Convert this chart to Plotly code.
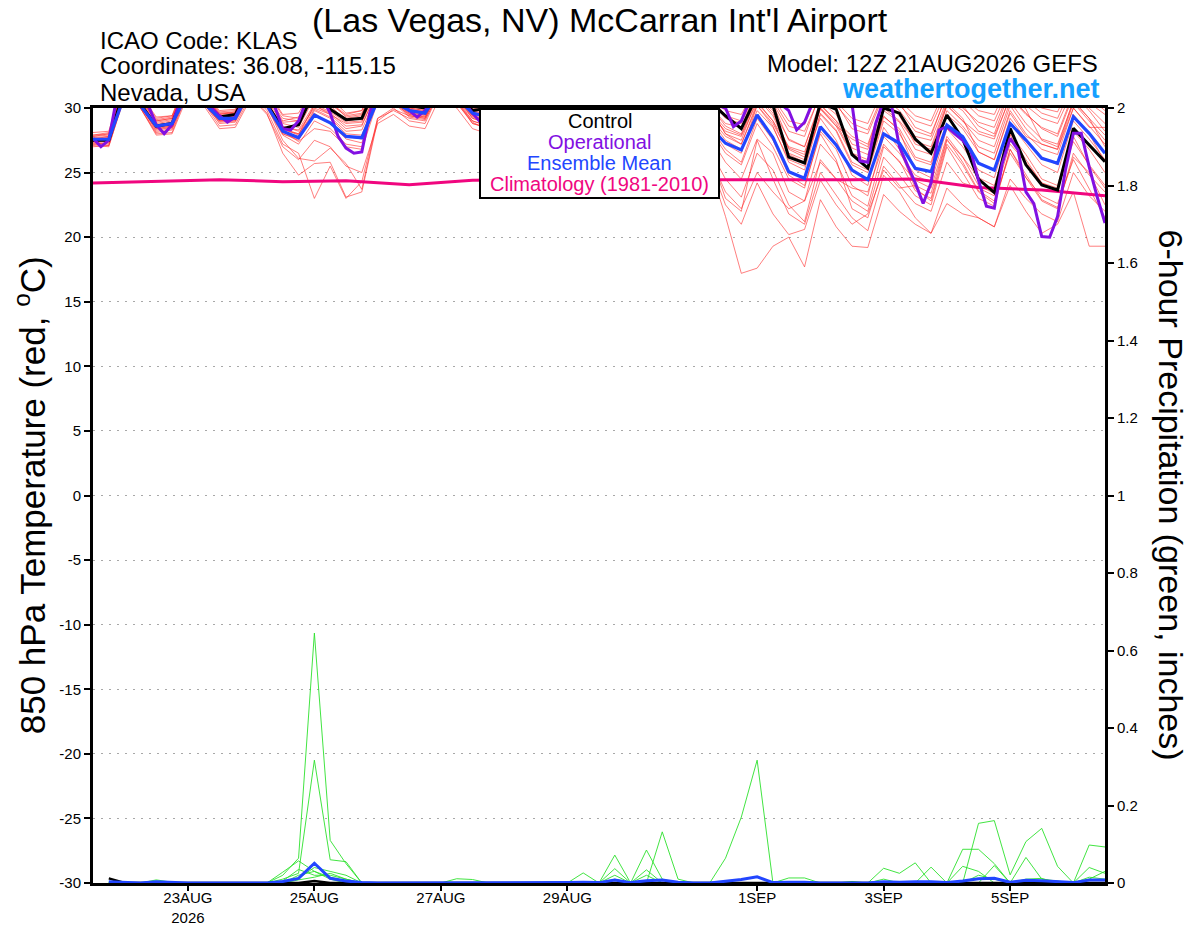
"""
GEFS meteogram for KLAS: 850 hPa temperature (left axis) + 6-hour precipitation (right axis)
"""
import pandas as pd
import plotly.graph_objects as go

run_start = "2026-08-21 12:00"
run_end = "2026-09-06 12:00"

# ---- 850 hPa temperature, 6-hourly, 65 steps (grouped by day: 12Z, 18Z, 00Z, 06Z) ----
control_t850 = [27.5, 27.5, 31.5, 30.3, 28.6, 28.8, 31.8, 30.6, 29.3, 29.5, 32.0, 30.3,
                28.4, 28.7, 31.3, 29.9, 29.1, 29.2, 32.0, 31.0, 30.2, 30.0, 32.5, 31.2,
                29.8, 30.0, 32.3, 31.0, 29.5, 29.6, 32.0, 30.8, 29.2, 29.3, 31.8, 30.6,
                29.0, 29.2, 31.5, 30.5, 29.4, 28.4, 31.0, 30.2, 26.2, 25.75, 30.4, 29.9,
                26.4, 25.35, 30.0, 29.6, 27.6, 26.5, 29.46, 27.6, 24.5, 23.45, 28.43, 25.6,
                24.04, 23.65, 28.43, 27.14, 25.85]

mean_t850 = [27.58, 27.58, 31.0, 30.2, 28.6, 28.8, 31.2, 30.4, 29.2, 29.2, 31.5, 30.2,
             28.2, 27.7, 29.45, 28.85, 27.8, 27.7, 30.6, 30.5, 29.8, 29.6, 31.5, 30.8,
             29.6, 29.3, 31.3, 30.5, 29.2, 29.0, 31.0, 30.2, 28.8, 28.6, 30.6, 29.8,
             28.4, 28.2, 30.2, 28.55, 27.27, 26.75, 29.46, 27.72, 25.07, 24.56, 28.55, 27.14,
             25.2, 24.45, 28.0, 27.27, 25.33, 25.07, 28.68, 27.78, 25.72, 25.2, 28.8, 27.52,
             26.1, 25.72, 29.33, 28.04, 26.5]

# operational run is 3-hourly (129 steps, one row per day)
oper_t850 = [27.65, 27.0, 27.5, 30.8, 32.0, 32.2, 31.0, 30.2,
             28.7, 28.0, 28.7, 30.5, 32.0, 31.8, 30.8, 30.0,
             29.4, 28.9, 29.3, 30.5, 32.0, 32.0, 31.0, 30.1,
             28.4, 28.3, 29.0, 30.6, 31.5, 30.8, 29.6, 27.8,
             26.9, 26.5, 26.6, 29.6, 31.5, 32.0, 31.5, 30.6,
             29.8, 29.3, 29.8, 30.8, 32.0, 32.0, 31.0, 30.4,
             29.6, 28.9, 29.2, 30.5, 31.8, 32.0, 31.0, 30.3,
             29.4, 29.0, 29.3, 30.4, 31.6, 31.8, 30.9, 30.2,
             29.2, 28.8, 29.1, 30.3, 31.5, 31.6, 30.8, 30.1,
             29.1, 28.6, 28.9, 30.2, 31.2, 31.0, 30.5, 30.2,
             30.0, 28.55, 29.0, 30.5, 31.5, 31.6, 31.0, 30.3,
             29.8, 28.3, 28.9, 30.4, 31.5, 31.5, 30.8, 31.0,
             30.3, 25.9, 25.8, 28.8, 30.6, 30.2, 27.0, 25.6,
             24.2, 22.6, 24.2, 28.3, 28.55, 28.0, 27.5, 26.75,
             24.4, 22.4, 22.25, 25.7, 27.65, 26.75, 23.5, 22.6,
             20.05, 20.0, 21.6, 25.2, 28.05, 28.05, 25.45, 23.15,
             21.1]

# daily climatology (1981-2010), 12Z each day
clim_t850 = [24.2, 24.35, 24.45, 24.3, 24.37, 24.05, 24.4, 24.45, 24.45,
             24.45, 24.4, 24.42, 24.45, 24.5, 23.85, 23.65, 23.2]

# ensemble members
mem01 = [27.8, 27.9, 32.0, 30.8, 29.0, 29.2, 32.2, 31.0, 29.5, 29.7, 32.5, 31.0,
         29.0, 29.3, 31.5, 30.4, 29.5, 29.8, 32.5, 31.5, 30.3, 30.1, 32.8, 31.6,
         30.2, 30.0, 32.6, 31.4, 29.8, 29.6, 32.3, 31.0, 29.5, 29.3, 32.0, 30.8,
         29.3, 29.2, 31.8, 30.8, 29.8, 29.5, 31.8, 30.6, 28.6, 28.2, 31.0, 30.2,
         28.8, 28.3, 31.2, 30.4, 28.5, 28.0, 31.0, 30.0, 28.9, 28.5, 31.5, 30.2,
         29.2, 28.8, 31.5, 30.4, 29.5]
mem02 = [27.6, 27.7, 31.6, 30.5, 28.8, 29.0, 31.8, 30.8, 29.4, 29.5, 32.0, 30.6,
         28.8, 28.5, 30.8, 30.0, 29.2, 29.4, 32.0, 31.2, 30.0, 29.8, 32.2, 31.2,
         29.8, 29.5, 32.0, 31.0, 29.5, 29.3, 31.8, 30.8, 29.0, 28.8, 31.5, 30.5,
         28.9, 28.8, 31.0, 30.2, 28.8, 28.5, 31.5, 30.3, 27.5, 27.0, 30.5, 29.5,
         27.2, 26.8, 30.4, 29.6, 27.8, 27.5, 30.6, 29.8, 28.2, 27.8, 30.8, 29.5,
         28.5, 28.0, 31.2, 30.0, 28.8]
mem03 = [27.4, 27.5, 31.2, 30.3, 28.5, 28.7, 31.5, 30.5, 29.2, 29.3, 31.8, 30.5,
         28.4, 27.9, 30.2, 29.5, 28.4, 28.6, 31.5, 30.8, 29.8, 29.6, 32.0, 31.0,
         29.5, 29.2, 31.6, 30.6, 29.0, 28.9, 31.4, 30.5, 28.8, 28.5, 31.2, 30.2,
         28.5, 28.2, 30.8, 30.0, 28.0, 27.5, 30.8, 29.4, 26.8, 26.2, 30.0, 28.8,
         26.5, 26.0, 29.8, 28.9, 26.8, 26.4, 30.2, 29.0, 27.5, 27.0, 30.5, 28.8,
         27.6, 27.2, 30.5, 29.2, 27.9]
mem04 = [27.2, 27.3, 31.0, 30.1, 28.3, 28.5, 31.2, 30.3, 29.0, 29.1, 31.5, 30.3,
         28.0, 27.5, 29.8, 29.2, 28.0, 27.9, 31.0, 30.5, 29.6, 29.4, 31.8, 30.8,
         29.3, 29.0, 31.4, 30.4, 28.8, 28.6, 31.0, 30.2, 28.4, 28.2, 30.8, 29.8,
         28.0, 27.6, 30.2, 29.0, 27.2, 26.5, 30.2, 28.6, 25.8, 25.2, 29.5, 28.2,
         25.6, 25.0, 29.0, 28.0, 26.0, 25.6, 29.5, 28.4, 26.6, 26.0, 29.8, 28.0,
         26.8, 26.4, 30.0, 28.6, 27.2]
mem05 = [27.9, 28.0, 31.8, 30.6, 29.1, 29.3, 32.0, 30.9, 29.6, 29.6, 31.6, 30.2,
         27.5, 26.1, 25.9, 26.9, 25.7, 23.7, 29.2, 30.0, 29.0, 28.8, 31.5, 30.6,
         28.8, 28.5, 31.2, 30.2, 28.5, 28.3, 31.0, 30.0, 28.2, 28.0, 30.6, 29.6,
         27.8, 27.3, 29.8, 28.4, 26.5, 25.6, 28.8, 27.0, 24.5, 23.8, 28.2, 26.8,
         24.0, 23.2, 27.8, 26.5, 24.8, 24.2, 28.4, 27.0, 25.2, 24.6, 28.8, 27.2,
         25.6, 25.0, 29.0, 27.6, 26.0]
mem06 = [27.3, 27.2, 31.4, 30.2, 28.2, 28.4, 31.6, 30.6, 28.8, 28.9, 31.2, 29.8,
         27.2, 26.5, 23.0, 25.5, 23.0, 24.3, 29.2, 29.8, 29.2, 29.0, 31.6, 30.7,
         29.0, 28.6, 31.3, 30.4, 28.6, 28.4, 31.1, 30.1, 28.0, 27.8, 30.5, 29.5,
         27.5, 27.0, 29.2, 27.8, 25.8, 24.5, 27.6, 26.5, 23.5, 22.8, 27.2, 25.8,
         23.2, 22.4, 27.0, 25.9, 23.6, 23.0, 27.5, 26.2, 24.0, 23.4, 28.0, 26.4,
         24.5, 24.0, 28.2, 26.8, 25.0]
mem07 = [27.1, 27.0, 31.0, 30.0, 28.0, 28.1, 31.3, 30.4, 28.6, 28.7, 31.0, 29.6,
         26.5, 24.8, 25.7, 25.8, 23.1, 23.5, 29.0, 29.9, 29.4, 29.2, 31.9, 30.9,
         29.2, 28.9, 31.5, 30.5, 28.9, 28.7, 31.2, 30.3, 28.5, 28.3, 31.0, 30.0,
         28.2, 27.9, 30.5, 29.2, 27.5, 26.8, 29.8, 28.5, 26.0, 25.5, 29.6, 28.3,
         25.8, 25.2, 29.3, 28.4, 26.2, 25.8, 29.8, 28.6, 27.0, 26.5, 30.2, 28.4,
         27.2, 26.8, 30.4, 29.0, 27.5]
mem08 = [27.5, 27.6, 31.3, 30.4, 28.6, 28.8, 31.6, 30.6, 29.1, 29.2, 31.4, 30.1,
         28.2, 27.4, 28.4, 28.2, 27.0, 26.8, 30.5, 30.6, 29.5, 29.3, 31.6, 30.4,
         28.9, 28.3, 30.8, 29.8, 28.0, 27.6, 30.2, 29.0, 27.2, 26.6, 29.5, 28.0,
         26.0, 25.0, 27.5, 25.5, 21.6, 17.2, 17.6, 19.3, 20.0, 17.7, 22.9, 20.8,
         19.3, 19.2, 23.3, 22.0, 21.0, 20.3, 23.8, 22.5, 21.5, 20.8, 24.5, 23.0,
         21.8, 21.2, 25.0, 23.2, 22.0]
mem09 = [27.0, 27.1, 30.8, 30.0, 27.9, 28.0, 31.0, 30.2, 28.4, 28.5, 30.8, 29.5,
         27.0, 26.0, 27.5, 27.0, 25.5, 25.0, 28.8, 29.5, 28.6, 28.4, 31.0, 30.0,
         28.4, 28.0, 30.5, 29.5, 27.8, 27.5, 30.0, 29.0, 27.4, 27.0, 29.6, 28.5,
         26.6, 26.0, 28.2, 26.5, 23.0, 22.0, 27.5, 24.5, 21.8, 21.0, 25.0, 23.2,
         21.5, 20.5, 24.8, 23.5, 21.5, 20.3, 22.6, 21.8, 21.5, 20.8, 24.0, 22.0,
         20.3, 21.0, 23.5, 19.3, 19.3]
mem10 = [27.6, 27.8, 31.5, 30.5, 28.7, 28.9, 31.7, 30.7, 29.3, 29.4, 31.9, 30.4,
         28.6, 28.2, 30.0, 29.5, 28.8, 28.9, 31.6, 30.9, 29.9, 29.7, 32.0, 31.0,
         29.4, 29.0, 31.4, 30.4, 28.7, 28.4, 30.8, 29.8, 28.0, 27.4, 30.0, 28.8,
         27.0, 26.4, 28.8, 26.8, 24.5, 23.1, 26.5, 25.2, 22.5, 21.2, 26.0, 24.5,
         22.8, 22.0, 26.2, 24.8, 23.2, 22.5, 27.0, 25.0, 23.0, 22.4, 26.8, 24.6,
         22.8, 22.2, 26.5, 24.8, 23.5]
mem11 = [27.7, 27.8, 31.7, 30.6, 28.9, 29.1, 31.9, 30.9, 29.5, 29.6, 32.2, 30.8,
         28.9, 29.0, 31.2, 30.3, 29.4, 29.6, 32.2, 31.3, 30.1, 29.9, 32.5, 31.4,
         29.9, 29.7, 32.2, 31.2, 29.6, 29.5, 32.0, 31.0, 29.4, 29.2, 31.8, 30.8,
         29.2, 29.0, 31.6, 30.6, 29.2, 28.8, 31.6, 30.4, 28.2, 27.8, 31.2, 30.4,
         28.4, 28.0, 31.0, 30.2, 29.0, 28.6, 31.4, 30.6, 29.4, 29.0, 31.8, 30.6,
         29.6, 29.2, 32.0, 30.8, 29.8]
mem12 = [27.3, 27.4, 31.1, 30.2, 28.4, 28.6, 31.4, 30.4, 29.0, 29.1, 31.6, 30.4,
         28.3, 28.0, 30.2, 29.6, 28.6, 28.7, 31.3, 30.7, 29.7, 29.5, 31.9, 30.9,
         29.6, 29.3, 31.7, 30.7, 29.2, 29.0, 31.3, 30.4, 28.7, 28.4, 31.0, 30.0,
         28.3, 28.0, 30.6, 29.6, 28.2, 27.8, 30.5, 29.0, 27.0, 26.6, 29.9, 28.6,
         26.4, 25.8, 29.4, 28.2, 25.2, 24.6, 28.8, 27.4, 25.8, 25.2, 29.2, 27.6,
         26.2, 25.6, 29.5, 28.0, 25.8]
mem13 = [27.5, 27.5, 31.4, 30.4, 28.6, 28.7, 31.5, 30.5, 29.2, 29.3, 31.7, 30.4,
         28.1, 27.8, 29.9, 29.3, 28.2, 28.3, 31.1, 30.6, 29.6, 29.5, 31.8, 30.8,
         29.4, 29.1, 31.5, 30.6, 29.0, 28.8, 31.2, 30.3, 28.6, 28.3, 30.9, 29.9,
         28.2, 27.8, 30.4, 29.3, 27.8, 27.2, 30.2, 28.8, 26.5, 26.0, 29.2, 27.5,
         24.8, 24.0, 28.5, 26.8, 23.8, 22.8, 27.2, 25.6, 23.5, 22.6, 26.8, 24.8,
         22.9, 22.3, 26.2, 25.0, 22.5]
mem14 = [27.8, 28.0, 31.9, 30.7, 29.0, 29.2, 32.1, 31.0, 29.6, 29.7, 32.3, 30.9,
         29.2, 29.0, 31.0, 30.2, 29.0, 29.2, 32.0, 31.2, 30.0, 29.8, 32.4, 31.3,
         29.7, 29.5, 31.9, 30.9, 29.4, 29.2, 31.6, 30.6, 29.1, 28.9, 31.4, 30.5,
         28.7, 28.5, 31.2, 30.2, 28.6, 28.0, 31.0, 29.8, 27.6, 27.0, 30.3, 29.0,
         27.8, 27.2, 30.6, 29.4, 27.2, 26.8, 30.2, 29.0, 28.0, 27.6, 30.9, 29.6,
         28.4, 27.8, 31.0, 29.8, 28.2]
mem15 = [27.4, 27.6, 31.3, 30.3, 28.5, 28.6, 31.6, 30.6, 29.1, 29.2, 31.7, 30.3,
         28.4, 28.0, 29.6, 28.8, 27.6, 27.3, 30.8, 30.5, 29.4, 29.2, 31.6, 30.5,
         29.0, 28.6, 31.0, 30.0, 28.4, 28.0, 30.6, 29.5, 27.8, 27.3, 29.8, 28.6,
         27.0, 26.2, 28.4, 26.2, 23.5, 22.2, 25.0, 23.5, 22.2, 22.8, 25.8, 24.5,
         23.8, 23.5, 27.2, 25.8, 24.4, 23.8, 27.8, 26.2, 24.6, 24.0, 27.9, 26.0,
         24.2, 23.8, 27.4, 25.6, 24.0]
mem16 = [27.9, 28.1, 32.1, 30.9, 29.2, 29.4, 32.3, 31.1, 29.7, 29.8, 32.6, 31.2,
         29.4, 29.2, 31.2, 30.5, 29.3, 29.5, 32.3, 31.4, 30.2, 30.1, 32.6, 31.5,
         30.0, 29.8, 32.4, 31.3, 29.7, 29.5, 32.1, 31.0, 29.3, 29.0, 31.6, 30.6,
         28.8, 28.6, 31.0, 30.0, 28.0, 27.2, 30.4, 29.0, 26.4, 25.8, 30.0, 28.6,
         27.6, 27.0, 30.8, 29.8, 28.2, 27.8, 31.2, 30.2, 28.6, 28.0, 31.4, 29.9,
         27.5, 27.0, 30.6, 29.2, 27.0]
mem17 = [27.2, 27.1, 31.0, 30.0, 28.1, 28.3, 31.2, 30.3, 28.9, 29.0, 31.3, 30.0,
         27.9, 27.2, 29.0, 28.4, 27.2, 27.0, 30.8, 30.4, 29.5, 29.3, 31.7, 30.7,
         29.2, 28.8, 31.2, 30.3, 28.8, 28.5, 31.0, 30.0, 28.3, 28.0, 30.5, 29.6,
         27.8, 27.5, 30.0, 28.6, 26.8, 25.8, 29.2, 27.5, 24.8, 24.0, 28.0, 26.0,
         22.2, 21.5, 25.5, 24.0, 22.6, 22.0, 25.8, 24.2, 23.8, 23.2, 27.2, 25.8,
         24.2, 23.6, 27.8, 25.5, 23.8]
mem18 = [27.5, 27.7, 31.5, 30.4, 28.6, 28.8, 31.6, 30.6, 29.3, 29.4, 31.8, 30.5,
         28.5, 28.3, 30.3, 29.7, 28.9, 29.0, 31.8, 31.0, 29.9, 29.7, 32.1, 31.1,
         29.6, 29.4, 31.8, 30.8, 29.3, 29.1, 31.5, 30.5, 28.9, 28.6, 31.1, 30.2,
         28.6, 28.3, 30.8, 29.8, 28.4, 27.9, 30.9, 29.6, 26.9, 26.4, 30.2, 29.0,
         26.9, 26.4, 30.0, 29.0, 27.4, 27.0, 30.4, 29.2, 26.6, 26.0, 29.6, 27.8,
         27.2, 26.8, 30.0, 28.5, 28.5]
mem19 = [27.6, 27.4, 31.2, 30.2, 28.4, 28.5, 31.4, 30.4, 29.0, 29.0, 31.4, 30.1,
         28.0, 27.6, 29.4, 28.8, 27.8, 27.6, 30.9, 30.4, 29.3, 29.1, 31.4, 30.4,
         28.8, 28.4, 30.9, 29.8, 28.2, 27.9, 30.4, 29.3, 27.6, 27.1, 29.7, 28.4,
         26.6, 25.8, 28.0, 25.8, 22.5, 21.0, 24.2, 21.8, 20.2, 20.6, 24.4, 22.5,
         21.0, 21.8, 25.2, 23.8, 24.0, 23.4, 27.6, 25.8, 23.6, 22.8, 26.5, 24.6,
         23.2, 22.6, 26.0, 23.8, 21.5]
mem20 = [28.1, 28.2, 32.4, 31.1, 29.3, 29.4, 32.5, 31.2, 29.8, 29.9, 32.8, 31.4,
         29.5, 29.6, 31.8, 30.8, 29.6, 29.8, 32.6, 31.6, 30.4, 30.2, 32.9, 31.7,
         30.3, 30.1, 32.7, 31.5, 30.0, 29.9, 32.5, 31.3, 29.8, 29.6, 32.3, 31.1,
         29.6, 29.4, 32.2, 31.0, 29.4, 29.0, 32.0, 30.8, 29.0, 28.7, 31.6, 30.5,
         29.2, 28.8, 31.6, 30.6, 29.4, 29.0, 31.8, 30.8, 29.8, 29.5, 32.2, 31.0,
         30.0, 29.7, 32.3, 31.2, 30.0]

members_t850 = [mem01, mem02, mem03, mem04, mem05, mem06, mem07, mem08, mem09, mem10,
                mem11, mem12, mem13, mem14, mem15, mem16, mem17, mem18, mem19, mem20]

# ---- 6-hour precipitation (inches), 64 steps ending 21AUG 18Z ... 06SEP 12Z ----
control_pcp = [0.012, 0, 0, 0, 0, 0, 0, 0, 0, 0, 0, 0, 0, 0.005, 0, 0,
               0, 0, 0, 0, 0, 0, 0, 0, 0, 0, 0, 0, 0, 0, 0, 0,
               0, 0, 0, 0, 0, 0, 0, 0, 0, 0, 0, 0, 0, 0, 0, 0,
               0, 0, 0, 0, 0, 0, 0, 0, 0, 0, 0, 0, 0, 0, 0, 0]
mean_pcp = [0.003, 0.001, 0, 0.003, 0.001, 0, 0, 0, 0, 0, 0, 0.004, 0.012, 0.051, 0.012, 0.005,
            0.001, 0, 0, 0, 0, 0, 0.001, 0.001, 0, 0, 0, 0, 0.001, 0.001, 0.002, 0.001,
            0.008, 0.001, 0.006, 0.008, 0.002, 0, 0, 0.004, 0.009, 0.016, 0.001, 0.002, 0.002, 0, 0, 0.001,
            0, 0.003, 0.002, 0.003, 0.003, 0.001, 0.005, 0.011, 0.012, 0.002, 0.007, 0.006, 0.003, 0.001, 0.008, 0.008]

pcp01 = [0, 0, 0, 0, 0, 0, 0, 0, 0, 0, 0, 0.02, 0.064, 0.645, 0.11, 0.05,
         0, 0, 0, 0, 0, 0, 0, 0, 0, 0, 0, 0, 0, 0, 0, 0,
         0.072, 0, 0, 0, 0, 0, 0, 0, 0, 0, 0, 0, 0, 0, 0, 0,
         0, 0.01, 0, 0, 0, 0, 0, 0, 0, 0, 0, 0, 0, 0, 0, 0]
pcp02 = [0, 0, 0, 0, 0, 0, 0, 0, 0, 0, 0, 0.01, 0.025, 0.317, 0.06, 0.055,
         0, 0, 0, 0, 0, 0, 0, 0, 0, 0, 0, 0, 0, 0, 0.026, 0,
         0.037, 0, 0.034, 0, 0, 0, 0, 0, 0, 0, 0, 0, 0, 0, 0, 0,
         0, 0, 0, 0, 0, 0, 0.087, 0.087, 0.05, 0, 0, 0, 0, 0, 0, 0]
pcp03 = [0.004, 0, 0, 0.008, 0.002, 0, 0, 0, 0, 0, 0, 0.028, 0.057, 0.03, 0.01, 0,
         0, 0, 0, 0, 0, 0, 0, 0, 0, 0, 0, 0, 0, 0, 0, 0,
         0, 0, 0.085, 0.01, 0, 0, 0, 0, 0, 0, 0, 0, 0, 0, 0, 0,
         0, 0.038, 0.025, 0.052, 0, 0, 0, 0, 0, 0, 0, 0, 0, 0, 0.04, 0.025]
pcp04 = [0, 0, 0, 0, 0, 0, 0, 0, 0, 0, 0, 0.005, 0.035, 0.02, 0.02, 0.01,
         0, 0, 0, 0, 0, 0, 0, 0, 0, 0, 0, 0, 0, 0, 0, 0,
         0, 0, 0, 0, 0, 0, 0, 0.064, 0.17, 0.317, 0, 0, 0, 0, 0, 0,
         0, 0, 0, 0, 0, 0, 0, 0.154, 0.161, 0.021, 0.107, 0.141, 0.043, 0, 0.098, 0.093]
pcp05 = [0, 0, 0, 0, 0, 0, 0, 0, 0, 0, 0, 0, 0.02, 0.03, 0.015, 0.005,
         0, 0, 0, 0, 0, 0, 0.011, 0.009, 0, 0, 0, 0, 0.003, 0, 0, 0,
         0.02, 0, 0, 0.132, 0.01, 0, 0, 0, 0, 0, 0, 0.013, 0.013, 0, 0, 0,
         0, 0, 0, 0, 0.041, 0, 0.043, 0.03, 0, 0, 0.066, 0.01, 0.005, 0, 0, 0]
pcp06 = [0, 0, 0, 0, 0, 0, 0, 0, 0, 0, 0, 0, 0.012, 0.04, 0.03, 0.02,
         0, 0, 0, 0, 0, 0, 0, 0, 0, 0, 0, 0, 0, 0, 0, 0,
         0.01, 0, 0.02, 0, 0, 0, 0, 0, 0, 0, 0, 0, 0, 0, 0, 0.004,
         0, 0, 0, 0, 0, 0, 0, 0, 0.045, 0, 0.01, 0.012, 0, 0, 0.01, 0.03]
pcp07 = [0, 0, 0, 0.005, 0, 0, 0, 0, 0, 0, 0, 0, 0.008, 0.015, 0.025, 0.01,
         0, 0, 0, 0, 0, 0, 0, 0, 0, 0, 0, 0, 0, 0, 0, 0,
         0, 0, 0, 0, 0, 0, 0, 0, 0, 0, 0, 0, 0, 0, 0, 0,
         0, 0, 0, 0, 0, 0, 0, 0.02, 0.01, 0, 0, 0, 0, 0, 0.015, 0.01]

members_pcp = [pcp01, pcp02, pcp03, pcp04, pcp05, pcp06, pcp07]

x_tick_dates = ["2026-08-23", "2026-08-25", "2026-08-27", "2026-08-29",
                "2026-09-01", "2026-09-03", "2026-09-05"]
x_tick_labels = ["23AUG<br>2026", "25AUG", "27AUG", "29AUG", "1SEP", "3SEP", "5SEP"]
t_tick_vals = [30, 25, 20, 15, 10, 5, 0, -5, -10, -15, -20, -25, -30]
t_tick_labels = ["30", "25", "20", "15", "10", "5", "0", "-5", "-10", "-15", "-20", "-25", "-30"]

# ---- time axes ----
t6 = pd.date_range(run_start, periods=len(control_t850), freq="6h")
t3 = pd.date_range(run_start, periods=len(oper_t850), freq="3h")
t_clim = pd.date_range(run_start, periods=len(clim_t850), freq="1D")
t_pcp = t6[1:]

FONT = "Liberation Sans, Arial, Helvetica, sans-serif"
RED = "rgba(255,40,40,0.75)"
GREEN = "rgb(45,225,45)"
PURPLE = "#8210e2"
BLUE = "#2246ff"
PINK = "#f0067f"

fig = go.Figure()

# red ensemble members
for m in members_t850:
    fig.add_trace(go.Scatter(x=t6, y=m, mode="lines",
                             line=dict(color=RED, width=0.8), hoverinfo="skip"))

# green precipitation members (right axis)
for p in members_pcp:
    fig.add_trace(go.Scatter(x=t_pcp, y=p, mode="lines", yaxis="y2",
                             line=dict(color=GREEN, width=0.9), hoverinfo="skip"))
fig.add_trace(go.Scatter(x=t_pcp, y=control_pcp, mode="lines", yaxis="y2",
                         line=dict(color="black", width=2.5), hoverinfo="skip"))
fig.add_trace(go.Scatter(x=t_pcp, y=mean_pcp, mode="lines", yaxis="y2",
                         line=dict(color=BLUE, width=3), hoverinfo="skip"))

# climatology, control, operational, mean
fig.add_trace(go.Scatter(x=t_clim, y=clim_t850, mode="lines",
                         line=dict(color=PINK, width=3), hoverinfo="skip"))
fig.add_trace(go.Scatter(x=t6, y=control_t850, mode="lines",
                         line=dict(color="black", width=3), hoverinfo="skip"))
fig.add_trace(go.Scatter(x=t3, y=oper_t850, mode="lines",
                         line=dict(color=PURPLE, width=3), hoverinfo="skip"))
fig.add_trace(go.Scatter(x=t6, y=mean_t850, mode="lines",
                         line=dict(color=BLUE, width=3.2), hoverinfo="skip"))

# ---- legend box ----
fig.add_shape(type="rect", xref="paper", yref="paper",
              x0=0.3824, x1=0.6186, y0=0.8839, y1=0.9987,
              fillcolor="white", line=dict(color="black", width=2), layer="above")
for txt, col, yy in [("Control", "black", 0.9832),
                     ("Operational", PURPLE, 0.9565),
                     ("Ensemble Mean", BLUE, 0.9290),
                     ("Climatology (1981-2010)", PINK, 0.9018)]:
    fig.add_annotation(text=txt, x=0.5005, y=yy, xref="paper", yref="paper",
                       showarrow=False, xanchor="center", yanchor="middle",
                       font=dict(family=FONT, size=20, color=col))

# ---- header texts ----
fig.add_annotation(text="(Las Vegas, NV) McCarran Int'l Airport", x=0.501, y=1.1135,
                   xref="paper", yref="paper", showarrow=False, yanchor="middle",
                   borderpad=0,
                   font=dict(family=FONT, size=34, color="black"))
for txt, yy in [("ICAO Code: KLAS", 1.0877),
                ("Coordinates: 36.08, -115.15", 1.0542),
                ("Nevada, USA", 1.0206)]:
    fig.add_annotation(text=txt, x=0.0049, y=yy, xref="paper", yref="paper",
                       showarrow=False, xanchor="left", yanchor="middle",
                       font=dict(family=FONT, size=24, color="black"))
fig.add_annotation(text="Model: 12Z 21AUG2026 GEFS", x=0.9951, y=1.0568,
                   xref="paper", yref="paper", showarrow=False,
                   xanchor="right", yanchor="middle",
                   font=dict(family=FONT, size=24, color="black"))
fig.add_annotation(text="<b>weathertogether.net</b>", x=0.997, y=1.0245,
                   xref="paper", yref="paper", showarrow=False,
                   xanchor="right", yanchor="middle",
                   font=dict(family=FONT, size=27, color="#14a0ff"))

# axis titles
fig.add_annotation(text="850 hPa Temperature (red, <sup>o</sup>C)", x=-0.0625, y=0.5,
                   xref="paper", yref="paper", showarrow=False, textangle=-90,
                   xanchor="center", yanchor="middle",
                   font=dict(family=FONT, size=35, color="black"))
fig.add_annotation(text="6-hour Precipitation (green, inches)", x=1.0662, y=0.5,
                   xref="paper", yref="paper", showarrow=False, textangle=90,
                   xanchor="center", yanchor="middle",
                   font=dict(family=FONT, size=34, color="black"))

fig.update_layout(
    width=1200, height=927,
    margin=dict(l=93, r=95, t=108, b=44, autoexpand=False),
    paper_bgcolor="white", plot_bgcolor="white",
    showlegend=False, hovermode=False,
    font=dict(family=FONT, size=15, color="black"),
    xaxis=dict(type="date", range=[run_start, run_end], automargin=False,
               tickvals=x_tick_dates, ticktext=x_tick_labels,
               ticks="outside", ticklen=5, tickwidth=1.5, tickcolor="black",
               ticklabelstandoff=-6,
               showgrid=False, zeroline=False,
               showline=True, linecolor="black", linewidth=3, mirror=True,
               tickfont=dict(size=15)),
    yaxis=dict(range=[-30, 30], automargin=False,
               tickvals=t_tick_vals, ticktext=t_tick_labels,
               ticks="outside", ticklen=6, tickwidth=1.5, tickcolor="black",
               showgrid=True, gridcolor="#a8a8a8", gridwidth=1, griddash="2px,6px",
               zeroline=False, showline=True, linecolor="black", linewidth=3,
               tickfont=dict(size=15)),
    yaxis2=dict(range=[0, 2], tick0=0, dtick=0.2, overlaying="y", side="right",
                automargin=False,
                ticks="outside", ticklen=6, tickwidth=1.5, tickcolor="black",
                showgrid=False, zeroline=False,
                showline=True, linecolor="black", linewidth=3,
                tickfont=dict(size=15)),
)

# drop the page's default 8px body margin so the figure fills the window
fig.write_html("out.html", config={"displayModeBar": False},
               post_script="document.body.style.margin='0px';")
